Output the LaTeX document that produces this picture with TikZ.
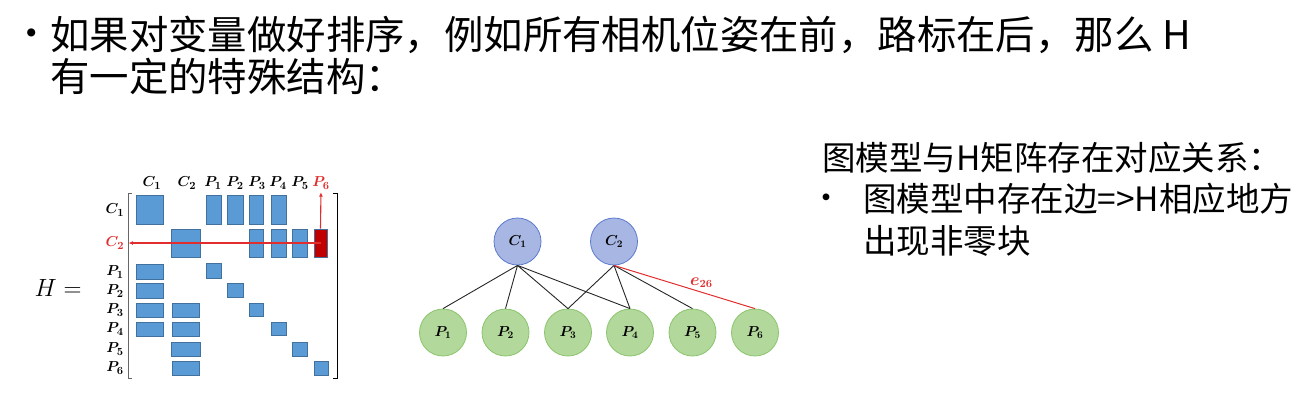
\documentclass[tikz,border=0pt]{standalone}
\usepackage{fontspec}
\setmainfont{Noto Sans CJK SC}
\usepackage{tikz}
\usetikzlibrary{arrows.meta}

\definecolor{blkfill}{RGB}{91,155,213}
\definecolor{blkline}{RGB}{65,113,156}
\definecolor{hotred}{RGB}{192,0,0}
\definecolor{arrred}{RGB}{225,45,45}
\definecolor{camfill}{RGB}{167,182,226}
\definecolor{camline}{RGB}{92,122,206}
\definecolor{ptfill}{RGB}{178,216,155}
\definecolor{ptline}{RGB}{138,196,108}

\begin{document}
\begin{tikzpicture}[x=1pt,y=-1pt,
  blk/.style={fill=blkfill,draw=blkline,line width=0.8pt},
  lbl/.style={inner sep=0pt,font=\fontsize{15}{15}\selectfont\boldmath},
  cam/.style={draw=camline,fill=camfill,circle,minimum size=47pt,inner sep=0pt,line width=0.8pt,font=\fontsize{14}{14}\selectfont\boldmath},
  pt/.style={draw=ptline,fill=ptfill,circle,minimum size=47pt,inner sep=0pt,line width=0.8pt,font=\fontsize{14}{14}\selectfont\boldmath},
  link/.style={draw=black!85,line width=0.9pt},
  redarr/.style={draw=arrred,line width=1.1pt,-{Latex[length=4.5pt,width=4pt]}},
  bigtxt/.style={anchor=west,inner sep=0pt,font=\fontsize{39.4}{42}\selectfont},
  sidetxt/.style={anchor=west,inner sep=0pt,font=\fontsize{33.5}{36}\selectfont}]

\useasboundingbox (0,0) rectangle (1308,402);

% heading
\node (b0) at (32,38) [inner sep=0pt,font=\fontsize{38.4}{41}\selectfont] {•};
\node (t1) at (50,35) [bigtxt] {如果对变量做好排序，例如所有相机位姿在前，路标在后，那么 H};
\node (t2) at (50,76) [bigtxt] {有一定的特殊结构：};

% the matrix H
\node (heq) at (58,288) [inner sep=0pt,font=\fontsize{23}{23}\selectfont] {$H =$};

\node (hC1) at (152,183) [lbl] {$C_1$};
\node (hC2) at (187,183) [lbl] {$C_2$};
\node (hP1) at (213,183) [lbl] {$P_1$};
\node (hP2) at (235,183) [lbl] {$P_2$};
\node (hP3) at (257,183) [lbl] {$P_3$};
\node (hP4) at (278,183) [lbl] {$P_4$};
\node (hP5) at (300,183) [lbl] {$P_5$};
\node (hP6) at (321,183) [lbl,text=arrred] {$P_6$};

\node (lC1) at (115,210) [lbl] {$C_1$};
\node (lC2) at (115,243) [lbl,text=arrred] {$C_2$};
\node (lP1) at (115,272) [lbl] {$P_1$};
\node (lP2) at (115,291) [lbl] {$P_2$};
\node (lP3) at (115,310) [lbl] {$P_3$};
\node (lP4) at (115,329) [lbl] {$P_4$};
\node (lP5) at (115,349) [lbl] {$P_5$};
\node (lP6) at (115,368) [lbl] {$P_6$};

\draw [black!60,line width=0.9pt] (132,193) -- (128,193) -- (128,378) -- (132,378);
\draw [black,line width=0.9pt] (333,193) -- (337,193) -- (337,378) -- (333,378);

% row C1
\draw [blk] (136,195) rectangle (163,224);
\draw [blk] (206,195) rectangle (221,224);
\draw [blk] (227,195) rectangle (243,224);
\draw [blk] (249,195) rectangle (263,224);
\draw [blk] (271,195) rectangle (286,224);
% row C2
\draw [blk] (171,229) rectangle (200,257);
\draw [blk] (249,229) rectangle (263,257);
\draw [blk] (271,229) rectangle (286,257);
\draw [blk] (292,229) rectangle (307,257);
\node (r26) at (320.5,243) [fill=hotred,draw=blkline,line width=0.8pt,minimum width=13pt,minimum height=28pt,inner sep=0pt] {};
% rows P1..P6
\draw [blk] (136,264) rectangle (163,279);
\draw [blk] (206,263) rectangle (221,278);
\draw [blk] (136,283) rectangle (163,298);
\draw [blk] (227,283) rectangle (243,297);
\draw [blk] (136,303) rectangle (163,317);
\draw [blk] (172,303) rectangle (199,317);
\draw [blk] (249,303) rectangle (263,316);
\draw [blk] (136,322) rectangle (163,336);
\draw [blk] (172,322) rectangle (199,336);
\draw [blk] (271,322) rectangle (286,335);
\draw [blk] (171,342) rectangle (200,356);
\draw [blk] (292,342) rectangle (307,356);
\draw [blk] (172,361) rectangle (199,375);
\draw [blk] (314,361) rectangle (328,375);

\draw [redarr,shorten >=4pt] (r26.center) -- (lC2.east);
\draw [redarr,shorten >=3pt] (r26.north) -- (hP6.south);

% graph model
\node (C1) at (517.5,241.5) [cam] {$C_1$};
\node (C2) at (614,241.5) [cam] {$C_2$};
\node (P1) at (443,332.5) [pt] {$P_1$};
\node (P2) at (505.5,332.5) [pt] {$P_2$};
\node (P3) at (568,332.5) [pt] {$P_3$};
\node (P4) at (630,332.5) [pt] {$P_4$};
\node (P5) at (692.5,332.5) [pt] {$P_5$};
\node (P6) at (755,332.5) [pt] {$P_6$};

\draw [link] (C1.south) -- (P1.north) (C1.south) -- (P2.north) (C1.south) -- (P3.north) (C1.south) -- (P4.north);
\draw [link] (C2.south) -- (P3.north) (C2.south) -- (P4.north) (C2.south) -- (P5.north);
\draw [draw=arrred,line width=1pt] (C2.south) -- node[pos=0.62,above=4pt,inner sep=0pt,text=arrred,font=\fontsize{16}{16}\selectfont\boldmath] (le26) {$e_{26}$} (P6.north);

% side note
\node (s1) at (822,158) [sidetxt] {图模型与H矩阵存在对应关系：};
\node (b1) at (826,202) [inner sep=0pt,font=\fontsize{32}{36}\selectfont] {•};
\node (s2) at (863,199) [sidetxt] {图模型中存在边=>H相应地方};
\node (s3) at (863,241) [sidetxt] {出现非零块};

\end{tikzpicture}
\end{document}
